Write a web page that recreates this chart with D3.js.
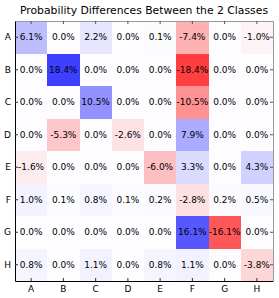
<!doctype html>
<html lang="en">
<head>
  <meta charset="utf-8">
  <title>Probability Differences</title>
  <script type="text/javascript" src="https://cdnjs.cloudflare.com/ajax/libs/d3/7.8.5/d3.min.js"></script>
  <style>
    body { margin: 0; background: #fff; }
    text { font-family: "DejaVu Sans", sans-serif; }
  </style>
</head>
<body>
  <svg width="279" height="298" id="svg"></svg>
<script type="text/javascript">

  var rows = ['A','B','C','D','E','F','G','H'];
  var cols = ['A','B','C','D','E','F','G','H'];

  // percentage difference, one array per row
  var rowA = [ 6.1,  0.0,  2.2,  0.0,  0.1,  -7.4,   0.0, -1.0];
  var rowB = [ 0.0, 18.4,  0.0,  0.0,  0.0, -18.4,   0.0,  0.0];
  var rowC = [ 0.0,  0.0, 10.5,  0.0,  0.0, -10.5,   0.0,  0.0];
  var rowD = [ 0.0, -5.3,  0.0, -2.6,  0.0,   7.9,   0.0,  0.0];
  var rowE = [-1.6,  0.0,  0.0,  0.0, -6.0,   3.3,   0.0,  4.3];
  var rowF = [ 1.0,  0.1,  0.8,  0.1,  0.2,  -2.8,   0.2,  0.5];
  var rowG = [ 0.0,  0.0,  0.0,  0.0,  0.0,  16.1, -16.1,  0.0];
  var rowH = [ 0.8,  0.0,  1.1,  0.0,  0.8,   1.1,   0.0, -3.8];

  var values = [rowA, rowB, rowC, rowD, rowE, rowF, rowG, rowH];

  var plotLeft = 15, plotRight = 273, plotTop = 21, plotBottom = 281;

  var x = d3.scaleBand().domain(cols).range([plotLeft, plotRight]);
  var y = d3.scaleBand().domain(rows).range([plotTop, plotBottom]);

  var vmax = 24.5;
  var color = d3.scaleLinear()
    .domain([-vmax, 0, vmax])
    .range(['#ff0000', '#fdfdff', '#0000ff'])
    .clamp(true);

  var cells = [];
  values.forEach(function(r, i) {
    r.forEach(function(v, j) {
      cells.push({row: rows[i], col: cols[j], value: v});
    });
  });

  var svg = d3.select('#svg');

  svg.append('g')
    .selectAll('rect')
    .data(cells)
    .enter()
    .append('rect')
    .attr('x', function(d) { return x(d.col); })
    .attr('y', function(d) { return y(d.row); })
    .attr('width', x.bandwidth())
    .attr('height', y.bandwidth())
    .attr('fill', function(d) { return color(d.value); })
    .attr('shape-rendering', 'crispEdges');

  svg.append('g')
    .selectAll('text')
    .data(cells)
    .enter()
    .append('text')
    .attr('x', function(d) { return x(d.col) + x.bandwidth() / 2; })
    .attr('y', function(d) { return y(d.row) + y.bandwidth() / 2; })
    .attr('text-anchor', 'middle')
    .attr('dy', '0.36em')
    .attr('font-size', '9px')
    .attr('fill', '#000')
    .text(function(d) { return d.value.toFixed(1) + '%'; });

  // axes: ticks point inward on every side
  var gb = svg.append('g')
    .attr('transform', 'translate(0,' + plotBottom + ')')
    .call(d3.axisBottom(x).tickSizeInner(-3).tickSizeOuter(0).tickPadding(5));
  var gt = svg.append('g')
    .attr('transform', 'translate(0,' + plotTop + ')')
    .call(d3.axisTop(x).tickSizeInner(-3).tickSizeOuter(0).tickFormat(''));
  var gl = svg.append('g')
    .attr('transform', 'translate(' + plotLeft + ',0)')
    .call(d3.axisLeft(y).tickSizeInner(-3).tickSizeOuter(0).tickPadding(4));
  var gr = svg.append('g')
    .attr('transform', 'translate(' + plotRight + ',0)')
    .call(d3.axisRight(y).tickSizeInner(-3).tickSizeOuter(0).tickFormat(''));

  [gb, gl].forEach(function(g) {
    g.selectAll('text').attr('font-size', '9px').attr('font-family', 'DejaVu Sans').attr('fill', '#000');
    g.select('.domain').attr('stroke', '#000');
    g.selectAll('.tick line').attr('stroke', '#333');
  });
  [gt, gr].forEach(function(g) {
    g.select('.domain').attr('stroke', '#999');
    g.selectAll('.tick line').attr('stroke', '#555');
  });

  svg.append('text')
    .attr('x', (plotLeft + plotRight) / 2)
    .attr('y', 13.5)
    .attr('text-anchor', 'middle')
    .attr('font-size', '10.8px')
    .attr('fill', '#000')
    .text('Probability Differences Between the 2 Classes');

</script>
</body>
</html>
